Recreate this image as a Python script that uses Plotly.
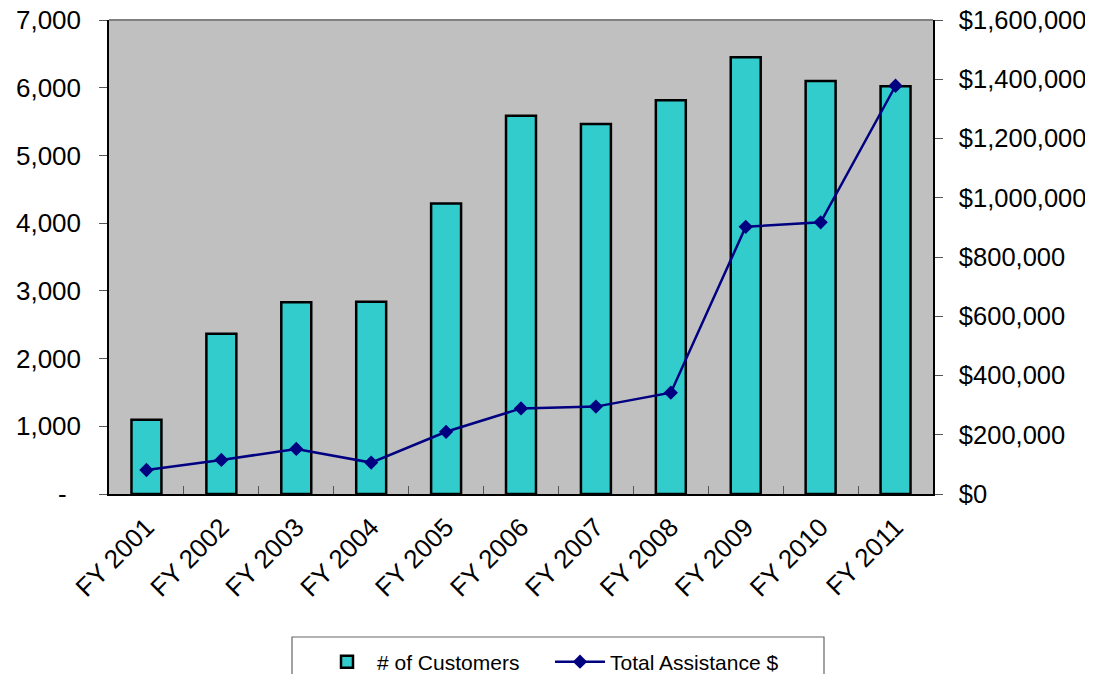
import plotly.graph_objects as go

categories = ["FY 2001", "FY 2002", "FY 2003", "FY 2004", "FY 2005", "FY 2006",
              "FY 2007", "FY 2008", "FY 2009", "FY 2010", "FY 2011"]
customers = [1095, 2365, 2830, 2840, 4290, 5585, 5465, 5815, 6450, 6100, 6020]
assistance = [81000, 115000, 152000, 106000, 210000, 289000, 295000, 342000, 902000, 917000, 1378000]

left_ticks = [0, 1000, 2000, 3000, 4000, 5000, 6000, 7000]
left_labels = ["-\u00a0\u00a0", "1,000", "2,000", "3,000", "4,000", "5,000", "6,000", "7,000"]
right_ticks = [0, 200000, 400000, 600000, 800000, 1000000, 1200000, 1400000, 1600000]
right_labels = ["$0", "$200,000", "$400,000", "$600,000", "$800,000", "$1,000,000",
                "$1,200,000", "$1,400,000", "$1,600,000"]

FONT = "Liberation Sans, Arial, sans-serif"
W, H = 1085, 666  # page body has an 8px margin

fig = go.Figure()
fig.add_trace(go.Bar(
    x=categories, y=customers, name="# of Customers",
    marker=dict(color="#33CCCC", line=dict(color="black", width=2.5)),
    width=0.4,
))
fig.add_trace(go.Scatter(
    x=categories, y=assistance, name="Total Assistance $", yaxis="y2",
    mode="lines+markers",
    line=dict(color="#000080", width=2.5),
    marker=dict(symbol="diamond", size=11, color="#000080"),
))

fig.update_layout(
    width=W, height=H,
    margin=dict(l=101, r=160, t=12, b=180),
    paper_bgcolor="white",
    plot_bgcolor="#C0C0C0",
    font=dict(family=FONT, size=26, color="black"),
    showlegend=True,
    legend=dict(
        orientation="h", xref="container", yref="container",
        x=309 / W, xanchor="left", y=1 - 654 / H, yanchor="middle",
        font=dict(size=21), bgcolor="rgba(0,0,0,0)", borderwidth=0,
        traceorder="normal", entrywidth=168, itemwidth=50,
    ),
    xaxis=dict(
        type="category", tickangle=-45, showgrid=False, automargin=False,
        showline=True, linecolor="black", linewidth=1.5,
        ticks="inside", ticklen=8, tickcolor="#555", tickson="boundaries",
        range=[-0.5, 10.5], ticklabelstandoff=6,
    ),
    yaxis=dict(
        range=[0, 7000], tickvals=left_ticks, ticktext=left_labels,
        showgrid=False, zeroline=False, automargin=False,
        showline=True, linecolor="black", linewidth=1.5,
        ticks="outside", ticklen=8, tickcolor="#555",
        ticklabelstandoff=13, ticklabeloverflow="allow",
    ),
    yaxis2=dict(
        range=[0, 1600000], tickvals=right_ticks, ticktext=right_labels,
        overlaying="y", side="right", showgrid=False, zeroline=False, automargin=False,
        showline=True, linecolor="black", linewidth=1.5,
        ticks="outside", ticklen=8, tickcolor="#555",
        ticklabelstandoff=11, ticklabeloverflow="allow",
        tickfont=dict(size=25.5),
    ),
    shapes=[
        dict(type="line", xref="paper", yref="paper", x0=0, x1=1, y0=1, y1=1,
             line=dict(color="#808080", width=2)),
        dict(type="rect", xref="paper", yref="paper",
             x0=(292 - 109) / 824, x1=(824 - 109) / 824,
             y0=-0.45, y1=(494 - 637) / 474,
             line=dict(color="#666666", width=1.2)),
    ],
)

fig.write_html("out.html")
